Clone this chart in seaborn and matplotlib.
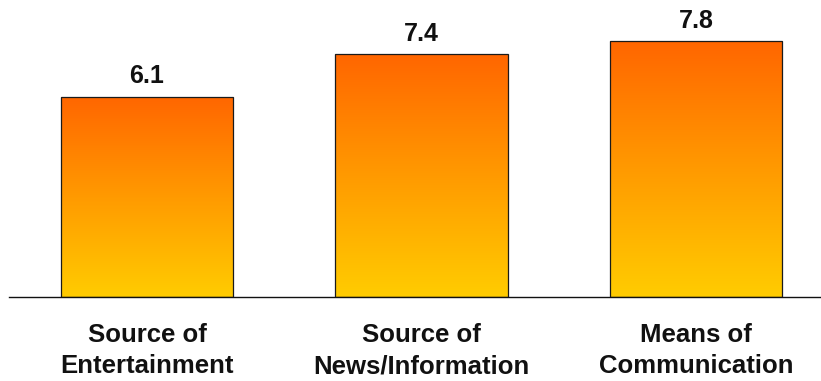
import numpy as np
import pandas as pd
import matplotlib
matplotlib.use("Agg")
import matplotlib.pyplot as plt
import seaborn as sns
from matplotlib.colors import LinearSegmentedColormap

# Average rating of the medium in each role
categories = ["Source of\nEntertainment", "Source of\nNews/Information", "Means of\nCommunication"]
scores = [6.1, 7.4, 7.8]
value_labels = ["6.1", "7.4", "7.8"]

sns.set_theme(style="white")
plt.rcParams["font.family"] = ["Liberation Sans", "DejaVu Sans"]

fig = plt.figure(figsize=(8.21, 3.81), dpi=100)
ax = fig.add_axes([9 / 821, 84 / 381, 811 / 821, 297 / 381])

df = pd.DataFrame({"category": categories, "score": scores})
sns.barplot(data=df, x="category", y="score", ax=ax, width=0.627,
            color="#FF9900", edgecolor="#1a1a1a", linewidth=0.9)

# vertical orange-to-yellow gradient inside every bar
cmap = LinearSegmentedColormap.from_list("warm", ["#FFCC00", "#FF9A00", "#FF6600"])
grad = np.linspace(0, 1, 256).reshape(-1, 1)
for bar in ax.patches:
    x0, y0 = bar.get_x(), bar.get_y()
    w, h = bar.get_width(), bar.get_height()
    bar.set_facecolor("none")
    bar.set_zorder(3)
    im = ax.imshow(grad, cmap=cmap, origin="lower", aspect="auto",
                   extent=[x0, x0 + w, y0, y0 + h], zorder=2)
    im.set_clip_path(bar)

ax.bar_label(ax.containers[0], labels=value_labels, padding=6,
             fontsize=18, fontweight="bold", color="#111111")

ax.set_xlim(-0.503, 2.452)
ax.set_ylim(0, 9.05)
ax.set_xlabel("")
ax.set_ylabel("")
ax.set_yticks([])
ax.tick_params(axis="x", length=0, pad=19)
for lbl in ax.get_xticklabels():
    lbl.set_fontsize(18.5)
    lbl.set_fontweight("bold")
    lbl.set_color("#111111")
    lbl.set_linespacing(1.35)

for side in ("left", "top", "right"):
    ax.spines[side].set_visible(False)
ax.spines["bottom"].set_color("#111111")
ax.spines["bottom"].set_linewidth(1.0)
ax.patch.set_alpha(0)

fig.savefig("out.png", dpi=100)
